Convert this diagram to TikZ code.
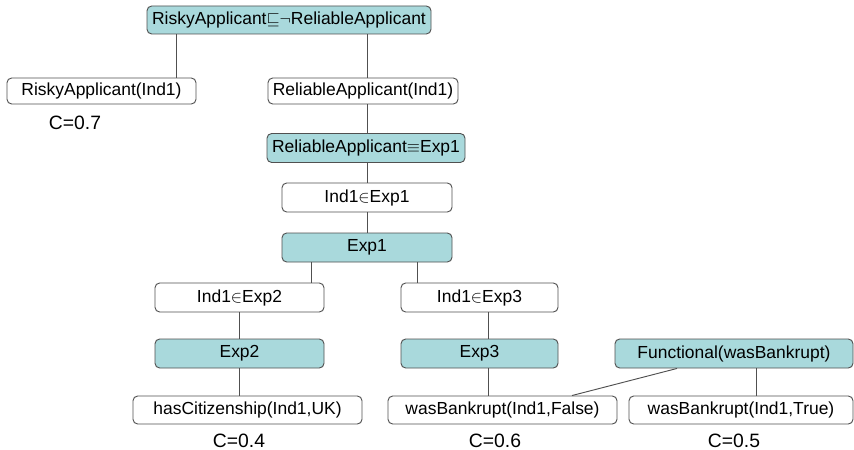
\documentclass[tikz,border=0pt]{standalone}
\usepackage{fontspec}
\setmainfont{Liberation Sans}
\usetikzlibrary{positioning}
\definecolor{ruleFill}{HTML}{A9D9DC}
\definecolor{ruleEdge}{HTML}{505050}

\begin{document}
\begin{tikzpicture}[x=0.03cm,y=-0.03cm,font=\fontsize{14.9}{17}\selectfont,
  wh/.style 2 args={minimum width=#1*0.03cm,minimum height=#2*0.03cm},
  fact/.style={draw=ruleEdge,line width=0.8pt,rounded corners=4pt,fill=white,inner sep=0pt},
  axiom/.style={fact,fill=ruleFill},
  conf/.style={anchor=base,inner sep=0pt,font=\fontsize{16.5}{19}\selectfont},
  link/.style={draw=ruleEdge,line width=0.8pt}]
  \useasboundingbox (0,0) rectangle (854,450);

  % proof tree
  \node[axiom,wh={284}{28}] (top) at (289,20) {RiskyApplicant${\sqsubseteq}{\neg}$ReliableApplicant};
  \node[fact,wh={189}{26}] (risky) at (101.5,91) {RiskyApplicant(Ind1)};
  \node[fact,wh={190}{26}] (reliable) at (363,91) {ReliableApplicant(Ind1)};
  \node[axiom,wh={198}{29}] (relexp) at (366,148) {ReliableApplicant$\equiv$Exp1};
  \node[fact,wh={170}{29}] (inexpA) at (367,197.5) {Ind1$\in$Exp1};
  \node[axiom,wh={170}{29}] (expA) at (367,247.5) {Exp1};
  \node[fact,wh={169}{29}] (inexpB) at (239.5,297.5) {Ind1$\in$Exp2};
  \node[axiom,wh={169}{29}] (expB) at (239.5,353.5) {Exp2};
  \node[fact,wh={229}{28}] (citizen) at (247.5,410) {hasCitizenship(Ind1,UK)};
  \node[fact,wh={157}{29}] (inexpC) at (479.5,297.5) {Ind1$\in$Exp3};
  \node[axiom,wh={157}{29}] (expC) at (479.5,353.5) {Exp3};
  \node[fact,wh={229}{28}] (bankF) at (502.5,410) {wasBankrupt(Ind1,False)};
  \node[axiom,wh={238}{29}] (func) at (734,353.5) {Functional(wasBankrupt)};
  \node[fact,wh={224}{28}] (bankT) at (741,410) {wasBankrupt(Ind1,True)};

  % confidences
  \node[conf] (cRisky) at (75,130) {C=0.7};
  \node[conf] (cCitizen) at (239,447) {C=0.4};
  \node[conf] (cBankF) at (495,447) {C=0.6};
  \node[conf] (cBankT) at (734,447) {C=0.5};

  % columns of the links
  \coordinate (colA) at (176,0);
  \coordinate (colB) at (367,0);
  \coordinate (colC) at (311,0);
  \coordinate (colD) at (417,0);
  \coordinate (colE) at (239,0);
  \coordinate (colF) at (488,0);
  \coordinate (colG) at (756,0);
  \coordinate (funOut) at (677,0);
  \coordinate (bankIn) at (572,0);

  \draw[link] (top.south -| colA) -- (risky.north -| colA);
  \draw[link] (top.south -| colB) -- (reliable.north -| colB);
  \draw[link] (reliable.south -| colB) -- (relexp.north -| colB);
  \draw[link] (relexp.south -| colB) -- (inexpA.north -| colB);
  \draw[link] (inexpA.south -| colB) -- (expA.north -| colB);
  \draw[link] (expA.south -| colC) -- (inexpB.north -| colC);
  \draw[link] (expA.south -| colD) -- (inexpC.north -| colD);
  \draw[link] (inexpB.south -| colE) -- (expB.north -| colE);
  \draw[link] (expB.south -| colE) -- (citizen.north -| colE);
  \draw[link] (inexpC.south -| colF) -- (expC.north -| colF);
  \draw[link] (expC.south -| colF) -- (bankF.north -| colF);
  \draw[link] (func.south -| funOut) -- (bankF.north -| bankIn);
  \draw[link] (func.south -| colG) -- (bankT.north -| colG);
\end{tikzpicture}
\end{document}
